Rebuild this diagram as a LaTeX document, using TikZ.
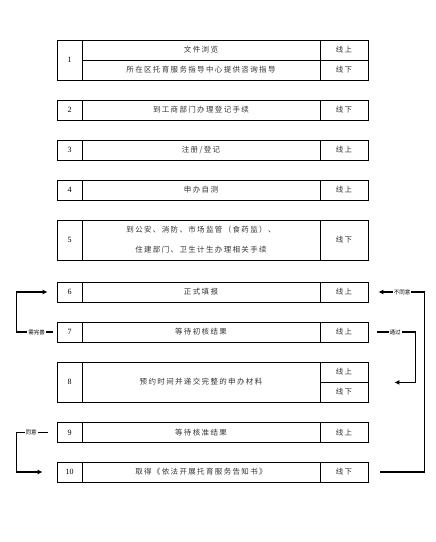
\documentclass[tikz,border=0pt]{standalone}
\usepackage{fontspec}
\setmainfont{Liberation Serif}
\newfontfamily\cjk[LetterSpace=18]{Noto Sans CJK SC}
\newfontfamily\cjknote{Noto Sans CJK SC}
\usetikzlibrary{arrows.meta}

\tikzset{
  cell/.style={draw, line width=0.8pt, inner sep=0pt, minimum height=20pt},
  numcell/.style={cell, minimum width=25pt, font=\fontsize{8}{9}\selectfont},
  taskcell/.style={cell, minimum width=238pt, align=center, text=black!80,
    font=\cjk\fontsize{7.5}{20}\selectfont},
  modecell/.style={cell, minimum width=48pt, text=black!80,
    font=\cjk\fontsize{7.5}{9}\selectfont},
  flow/.style={line width=1.6pt, -{Latex[length=5pt,width=5pt]}},
  note/.style={font=\cjknote\fontsize{5.5}{6}\selectfont, fill=white, inner sep=1pt}
}

\begin{document}
\begin{tikzpicture}[x=1pt,y=-1pt]
    \useasboundingbox (0,0) rectangle (436,542);

    % Step 1
    \node[numcell, minimum height=40pt] (n1) at (69.5,60) {1};
    \node[taskcell] (t1a) at (201,50) {文件浏览};
    \node[taskcell] (t1b) at (201,70) {所在区托育服务指导中心提供咨询指导};
    \node[modecell] (m1a) at (344,50) {线上};
    \node[modecell] (m1b) at (344,70) {线下};

    % Steps 2 to 4
    \node[numcell] (n2) at (69.5,110) {2};
    \node[taskcell] (t2) at (201,110) {到工商部门办理登记手续};
    \node[modecell] (m2) at (344,110) {线下};

    \node[numcell] (n3) at (69.5,150) {3};
    \node[taskcell] (t3) at (201,150) {注册/登记};
    \node[modecell] (m3) at (344,150) {线上};

    \node[numcell] (n4) at (69.5,190) {4};
    \node[taskcell] (t4) at (201,190) {申办自测};
    \node[modecell] (m4) at (344,190) {线上};

    % Step 5
    \node[numcell, minimum height=40pt] (n5) at (69.5,240) {5};
    \node[taskcell, minimum height=40pt] (t5) at (201,240)
      {到公安、消防、市场监管（食药监）、\\住建部门、卫生计生办理相关手续};
    \node[modecell, minimum height=40pt] (m5) at (344,240) {线下};

    % Steps 6 and 7
    \node[numcell] (n6) at (69.5,292) {6};
    \node[taskcell] (t6) at (201,292) {正式填报};
    \node[modecell] (m6) at (344,292) {线上};

    \node[numcell] (n7) at (69.5,332) {7};
    \node[taskcell] (t7) at (201,332) {等待初核结果};
    \node[modecell] (m7) at (344,332) {线上};

    % Step 8
    \node[numcell, minimum height=40pt] (n8) at (69.5,382) {8};
    \node[taskcell, minimum height=40pt] (t8) at (201,382) {预约时间并递交完整的申办材料};
    \node[modecell] (m8a) at (344,372) {线上};
    \node[modecell] (m8b) at (344,392) {线下};

    % Steps 9 and 10
    \node[numcell] (n9) at (69.5,432.5) {9};
    \node[taskcell] (t9) at (201,432.5) {等待核准结果};
    \node[modecell] (m9) at (344,432.5) {线上};

    \node[numcell] (n10) at (69.5,472) {10};
    \node[taskcell] (t10) at (201,472) {取得《依法开展托育服务告知书》};
    \node[modecell] (m10) at (344,472) {线下};

    % Feedback loops
    \draw[flow, shorten <=4pt, shorten >=9pt] (n7.west) -- ++(-40,0)
      node[note, pos=0.5] {需完善} |- (n6.west);
    \draw[flow, shorten <=9pt, shorten >=14pt] (n9.west) -- ++(-40,0)
      node[note, pos=0.64] {同意} |- (n10.west);
    \draw[flow, shorten <=9pt, shorten >=26pt] (m7.east) -- ++(47,0)
      node[note, pos=0.57] {通过} |- (m8a.south east);
    \draw[flow, shorten <=12pt, shorten >=10pt] (m10.east) -- ++(56,0)
      |- (m6.east) node[note, pos=0.7] {不同意};
\end{tikzpicture}
\end{document}
